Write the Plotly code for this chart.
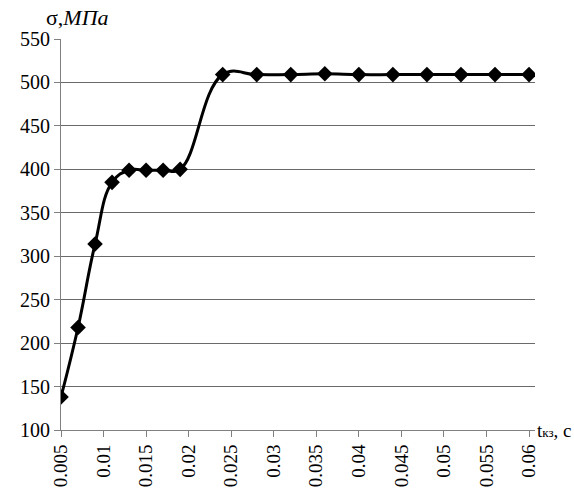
import plotly.graph_objects as go

# Short-circuit duration, s
t_kz = [0.005, 0.007, 0.009, 0.011, 0.013, 0.015, 0.017, 0.019, 0.024,
        0.028, 0.032, 0.036, 0.040, 0.044, 0.048, 0.052, 0.056, 0.060]
# Stress, MPa
sigma = [138, 218, 314, 385, 399, 399, 399, 400, 509,
         509, 509, 510, 509, 509, 509, 509, 509, 509]

x_ticks = [0.005, 0.01, 0.015, 0.02, 0.025, 0.03, 0.035, 0.04, 0.045, 0.05, 0.055, 0.06]
x_tick_text = ["0.005", "0.01", "0.015", "0.02", "0.025", "0.03", "0.035", "0.04",
               "0.045", "0.05", "0.055", "0.06"]
y_ticks = [100, 150, 200, 250, 300, 350, 400, 450, 500, 550]

FONT = "'Liberation Serif', 'Times New Roman', serif"

fig = go.Figure()
fig.add_trace(go.Scatter(
    x=t_kz, y=sigma,
    mode="lines+markers",
    line=dict(color="black", width=3, shape="spline", smoothing=1.2),
    marker=dict(symbol="diamond", size=12, color="black"),
    showlegend=False,
))

fig.update_layout(
    width=574, height=499,
    margin=dict(l=61, r=39, t=39, b=66),
    paper_bgcolor="white", plot_bgcolor="white",
    font=dict(family=FONT, color="black"),
    xaxis=dict(
        range=[0.005, 0.0607],
        tickvals=x_ticks, ticktext=x_tick_text,
        tickangle=-90, tickfont=dict(size=19, family=FONT, color="black"),
        ticks="outside", ticklen=6, tickcolor="#808080",
        showline=True, linecolor="#808080", linewidth=1,
        showgrid=False, zeroline=False,
    ),
    yaxis=dict(
        range=[100, 550],
        tickvals=y_ticks,
        tickfont=dict(size=20, family=FONT, color="black"),
        ticks="outside", ticklen=6, tickcolor="#808080",
        showline=True, linecolor="#808080", linewidth=1,
        showgrid=True, gridcolor="#6a6a6a", gridwidth=1,
        zeroline=False,
    ),
    annotations=[
        dict(text="σ,<i>МПа</i>", xref="paper", yref="paper",
             x=-0.035, y=1.0, xanchor="left", yanchor="bottom",
             yshift=7, showarrow=False, font=dict(size=22, family=FONT, color="black")),
        dict(text="t<span style='font-size:13px'>кз</span>, с", xref="paper", yref="paper",
             x=1.0, y=0.0, xanchor="left", yanchor="middle",
             showarrow=False, font=dict(size=19, family=FONT, color="black")),
    ],
)

fig.write_html("out.html")
